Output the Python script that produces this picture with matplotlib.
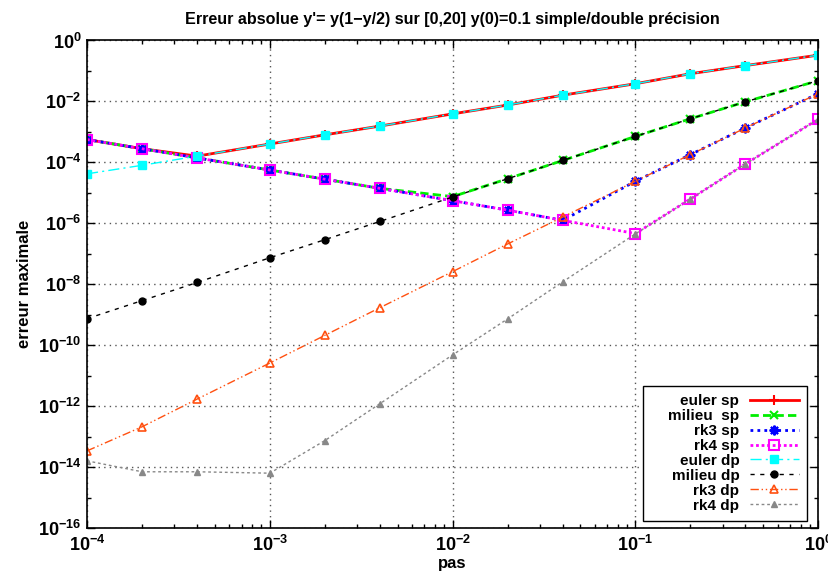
import matplotlib
matplotlib.use("Agg")
import matplotlib.pyplot as plt
from matplotlib.ticker import LogLocator, LogFormatterSciNotation, NullFormatter

plt.rcParams['font.family'] = ['Liberation Sans', 'DejaVu Sans']
plt.rcParams['font.weight'] = 'bold'
plt.rcParams['mathtext.fontset'] = 'custom'
plt.rcParams['mathtext.rm'] = 'Liberation Sans:bold'
plt.rcParams['mathtext.bf'] = 'Liberation Sans:bold'
plt.rcParams['mathtext.default'] = 'bf'

# pas de temps
pas = [1e-4, 2e-4, 4e-4, 1e-3, 2e-3, 4e-3, 1e-2, 2e-2, 4e-2, 0.1, 0.2, 0.4, 1.0]

# erreurs
euler_sp = [5.6e-4, 2.8e-4, 1.6e-4, 4.0e-4, 8.0e-4, 1.55e-3, 3.9e-3, 7.6e-3, 1.6e-2, 3.8e-2, 8.1e-2, 0.15, 0.33]
milieu_sp = [5.6e-4, 2.8e-4, 1.4e-4, 5.6e-5, 2.8e-5, 1.4e-5, 7.5e-6, 2.9e-5, 1.15e-4, 7.1e-4, 2.7e-3, 9.7e-3, 4.8e-2]
rk3_sp = [5.6e-4, 2.8e-4, 1.4e-4, 5.6e-5, 2.8e-5, 1.4e-5, 5.5e-6, 2.7e-6, 1.25e-6, 2.4e-5, 1.8e-4, 1.35e-3, 1.8e-2]
rk4_sp = [5.6e-4, 2.8e-4, 1.4e-4, 5.6e-5, 2.8e-5, 1.4e-5, 5.5e-6, 2.7e-6, 1.25e-6, 4.6e-7, 6.3e-6, 8.9e-5, 2.6e-3]
euler_dp = [4.2e-5, 8.0e-5, 1.6e-4, 4.0e-4, 8.0e-4, 1.55e-3, 3.9e-3, 7.6e-3, 1.6e-2, 3.8e-2, 8.1e-2, 0.15, 0.33]
milieu_dp = [7.4e-10, 2.9e-9, 1.14e-8, 7.4e-8, 2.9e-7, 1.15e-6, 7.3e-6, 2.9e-5, 1.15e-4, 7.1e-4, 2.7e-3, 9.7e-3, 4.8e-2]
rk3_dp = [3.4e-14, 2.1e-13, 1.7e-12, 2.6e-11, 2.1e-10, 1.7e-9, 2.6e-8, 2.1e-7, 1.6e-6, 2.4e-5, 1.8e-4, 1.35e-3, 1.8e-2]
rk4_dp = [1.6e-14, 7.0e-15, 7.0e-15, 6.3e-15, 7.4e-14, 1.2e-12, 4.8e-11, 7.3e-10, 1.2e-8, 4.5e-7, 6.3e-6, 8.9e-5, 2.6e-3]

fig = plt.figure(figsize=(8.29, 5.78), dpi=100)
ax = fig.add_axes([0.105, 0.0865, 0.882, 0.8435])

ax.plot(pas, euler_sp, color='red', lw=2, marker='+', ms=7, mew=1.5, label='euler sp')
ax.plot(pas, milieu_sp, color='#00ee00', lw=2, ls=(0, (3, 1.5)), marker='x', ms=6, mew=1.5, label='milieu  sp')
ax.plot(pas, rk3_sp, color='blue', lw=2, ls=(0, (1, 1.5)), marker=(8, 2, 0), ms=7, mew=1.5, label='rk3 sp')
ax.plot(pas, rk4_sp, color='magenta', lw=2, ls=(0, (1, 1)), marker='s', ms=6.5, mew=1.5, mfc='none', label='rk4 sp')
ax.plot(pas, euler_dp, color='cyan', lw=1, ls=(0, (8, 3, 1.5, 3)), marker='s', ms=6, label='euler dp')
ax.plot(pas, milieu_dp, color='black', lw=1, ls=(0, (3, 4)), marker='o', ms=5, label='milieu dp')
ax.plot(pas, rk3_dp, color='#ff5010', lw=1, ls=(0, (6, 2, 1, 2, 1, 2)), marker='^', ms=6, mfc='none', mew=1.2, label='rk3 dp')
ax.plot(pas, rk4_dp, color='#888888', lw=1, ls=(0, (2, 2)), marker='^', ms=5, label='rk4 dp')

ax.set_xscale('log')
ax.set_yscale('log')
ax.set_xlim(1e-4, 1)
ax.set_ylim(1e-16, 1)

ax.xaxis.set_major_locator(LogLocator(base=10, numticks=10))
ax.xaxis.set_minor_locator(LogLocator(base=10, subs=range(2, 10), numticks=20))
ax.xaxis.set_minor_formatter(NullFormatter())
ax.yaxis.set_major_locator(LogLocator(base=100, numticks=20))
ax.yaxis.set_major_formatter(LogFormatterSciNotation(base=10))
ax.yaxis.set_minor_locator(LogLocator(base=10, subs=[1.0], numticks=20))
ax.yaxis.set_minor_formatter(NullFormatter())

ax.tick_params(which='both', direction='in', top=True, right=True, labelsize=13)
ax.tick_params(which='major', length=6, width=1)
ax.tick_params(which='minor', length=3, width=1)
ax.tick_params(axis='x', pad=5)
ax.tick_params(axis='y', pad=4)
ax.grid(True, which='major', ls=(0, (1, 3)), color='#555555', lw=1)
for s in ax.spines.values():
    s.set_linewidth(1.2)

ax.set_title("Erreur absolue y'= y(1\u2212y/2) sur [0,20] y(0)=0.1 simple/double précision",
             fontsize=11.6, fontweight='bold', pad=12)
ax.set_xlabel('pas', fontsize=12, fontweight='bold', labelpad=1)
ax.set_ylabel('erreur maximale', fontsize=12, fontweight='bold', labelpad=4)

leg = ax.legend(loc='lower right', bbox_to_anchor=(0.985, 0.0144), markerfirst=False,
                fancybox=False, framealpha=1, edgecolor='black', fontsize=11,
                handlelength=3.2, labelspacing=0.06, borderpad=0.55,
                handletextpad=0.7, borderaxespad=0)
leg.get_frame().set_linewidth(1)
for t in leg.get_texts():
    t.set_fontweight('bold')
# marge gauche plus large comme dans gnuplot
leg.get_texts()[1].set_text('    milieu  sp')

fig.savefig('out.png', dpi=100)
